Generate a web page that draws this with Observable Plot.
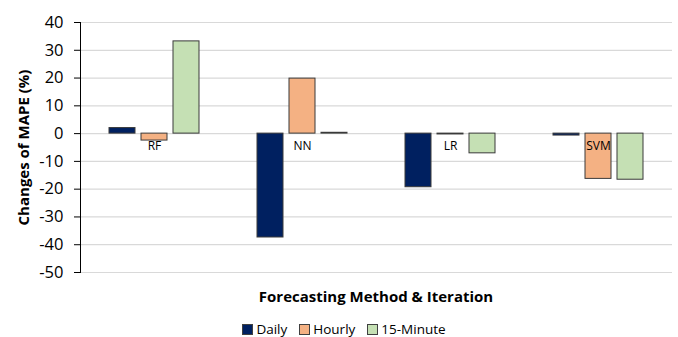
<!DOCTYPE html>
<html>
<head>
<meta charset="utf-8">
<script src="https://cdn.jsdelivr.net/npm/d3@7"></script>
<script src="https://cdn.jsdelivr.net/npm/@observablehq/plot@0.6"></script>
<style>
  body { margin: 0; background: #fff; font-family: "Open Sans", sans-serif; color: #000; }
  #chart { width: 678px; height: 337px; position: relative; }
  #chart svg g[aria-label="y-axis tick label"] text { font-size: 16.5px !important; }
  #chart svg g[aria-label="y-axis label"] text { font-weight: 700; font-size: 15px !important; }
  .xtitle { height: 28px; line-height: 28px; padding-left: 79px; width: 594px; text-align: center;
            font-weight: 700; font-size: 15px; }
  .legend { margin-top: 9px; display: flex; justify-content: center; gap: 12px; font-size: 13.5px;
            line-height: 20px; padding-left: 10px; }
  .legend span.item { display: inline-flex; align-items: center; }
  .legend span.sw { width: 9px; height: 9px; border: 1px solid #404040; margin-right: 3px; display: inline-block; }
</style>
</head>
<body>
<div id="chart"></div>
<script>
// Change in MAPE (%) per forecasting method, for each iteration interval
const methods = ["RF", "NN", "LR", "SVM"];
const series = ["Daily", "Hourly", "15-Minute"];
const daily = [2.0, -37.4, -19.3, -0.7];
const hourly = [-2.5, 19.8, -0.3, -16.3];
const quarterHour = [33.2, 0.3, -7.1, -16.6];
const colors = ["#002060", "#f4b183", "#c5e0b4"];
const yTicks = [40, 30, 20, 10, 0, -10, -20, -30, -40, -50];

const valuesBySeries = [daily, hourly, quarterHour];
const rows = methods.flatMap((m, i) =>
  series.map((s, j) => ({method: m, series: s, value: valuesBySeries[j][i]}))
);

const plot = Plot.plot({
  width: 678,
  height: 282,
  marginLeft: 79,
  marginRight: 5,
  marginTop: 22,
  marginBottom: 10,
  style: {fontFamily: "Open Sans, sans-serif", fontSize: "15px", color: "#000", background: "transparent"},
  fx: {domain: methods, padding: 0, axis: null},
  x: {domain: series, paddingInner: 0.2, paddingOuter: 0.85, axis: null},
  y: {domain: [-50, 40]},
  color: {domain: series, range: colors},
  marks: [
    Plot.gridY(yTicks, {stroke: "#d9d9d9", strokeOpacity: 1, strokeWidth: 1.2}),
    Plot.barY(rows, {fx: "method", x: "series", y: "value", fill: "series", stroke: "#3a3a3a", strokeWidth: 1}),
    Plot.text(methods, {fx: d => d, y: () => 0, text: d => d, dy: 13, fontSize: 12}),
    Plot.frame({anchor: "left", facetAnchor: "left", stroke: "#000"}),
    Plot.axisY(yTicks, {
      tickSize: 6,
      tickPadding: 11,
      tickFormat: d => String(d),
      label: "Changes of MAPE (%)",
      labelAnchor: "center",
      labelArrow: "none",
      labelOffset: 62
    })
  ]
});

const root = document.getElementById("chart");
root.appendChild(plot);

const title = document.createElement("div");
title.className = "xtitle";
title.textContent = "Forecasting Method & Iteration";
root.appendChild(title);

const legend = document.createElement("div");
legend.className = "legend";
series.forEach((s, i) => {
  const item = document.createElement("span");
  item.className = "item";
  const sw = document.createElement("span");
  sw.className = "sw";
  sw.style.background = colors[i];
  item.appendChild(sw);
  item.appendChild(document.createTextNode(s));
  legend.appendChild(item);
});
root.appendChild(legend);
</script>
</body>
</html>
